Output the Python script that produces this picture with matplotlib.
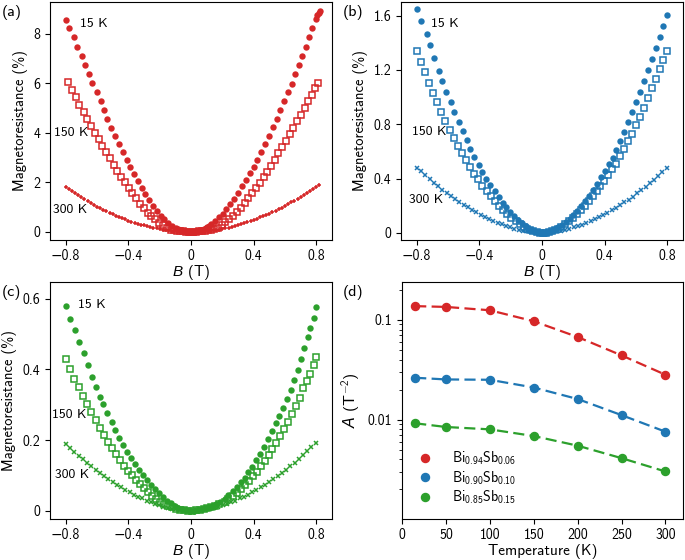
import matplotlib
matplotlib.use("Agg")
import matplotlib.pyplot as plt
from matplotlib.ticker import FixedLocator, NullFormatter, LogLocator
import numpy as np

plt.rcParams['font.family'] = ['cmss10', 'DejaVu Sans']
plt.rcParams['mathtext.fontset'] = 'custom'
plt.rcParams['mathtext.rm'] = 'cmss10'
plt.rcParams['mathtext.sf'] = 'cmss10'
plt.rcParams['mathtext.it'] = 'Liberation Sans:italic'
plt.rcParams['axes.unicode_minus'] = True
plt.rcParams['font.size'] = 10

RED = '#d62728'
BLUE = '#1f77b4'
GREEN = '#2ca02c'

# ---------------- Panel (a): Bi0.94Sb0.06 ----------------
a15_B = [-0.800, -0.777, -0.749, -0.728, -0.698, -0.674, -0.651, -0.630, -0.600, -0.577, -0.555, -0.534,
         -0.509, -0.483, -0.460, -0.436, -0.411, -0.387, -0.362, -0.338, -0.315, -0.291, -0.268, -0.245,
         -0.219, -0.194, -0.170, -0.147, -0.121, -0.098,
         -0.085, -0.075, -0.065, -0.055, -0.045, -0.035, -0.025, -0.015, -0.005, 0.005, 0.015, 0.025,
         0.035, 0.045, 0.055, 0.065, 0.075, 0.085, 0.095, 0.105, 0.115,
         0.128, 0.153, 0.177, 0.202, 0.226, 0.251, 0.276, 0.300, 0.325, 0.349, 0.374, 0.399, 0.423, 0.448,
         0.472, 0.497, 0.522, 0.546, 0.571, 0.595, 0.620, 0.645, 0.667, 0.688, 0.710, 0.732, 0.753, 0.775,
         0.796, 0.806, 0.814, 0.821]
a15_MR = [8.58, 8.22, 7.88, 7.47, 7.11, 6.73, 6.37, 6.01, 5.64, 5.28, 4.92, 4.55,
          4.20, 3.87, 3.54, 3.23, 2.91, 2.63, 2.34, 2.05, 1.78, 1.52, 1.28, 1.05,
          0.84, 0.66, 0.50, 0.36, 0.24, 0.15,
          0.11, 0.08, 0.06, 0.04, 0.03, 0.02, 0.01, 0.00, 0.00, 0.00, 0.00, 0.01,
          0.02, 0.03, 0.05, 0.07, 0.09, 0.12, 0.15, 0.19, 0.24,
          0.31, 0.44, 0.58, 0.73, 0.92, 1.12, 1.33, 1.58, 1.85, 2.09, 2.36, 2.63, 2.92, 3.23,
          3.54, 3.87, 4.24, 4.58, 4.92, 5.29, 5.64, 5.99, 6.37, 6.73, 7.10, 7.47, 7.88, 8.22,
          8.62, 8.75, 8.85, 8.92]

a150_B = [-0.783, -0.762, -0.734, -0.713, -0.685, -0.662, -0.636, -0.613, -0.589, -0.566, -0.540, -0.515,
          -0.494, -0.470, -0.447, -0.421, -0.396, -0.374, -0.349, -0.326, -0.302, -0.277, -0.253, -0.230,
          -0.204, -0.179, -0.155, -0.130,
          -0.11, -0.09, -0.07, -0.05, -0.03, -0.01, 0.01, 0.03, 0.05, 0.07, 0.09, 0.11, 0.13,
          0.145, 0.170, 0.195, 0.220, 0.245, 0.270, 0.295, 0.320, 0.343, 0.367, 0.391, 0.415, 0.439,
          0.463, 0.487, 0.511, 0.535, 0.558, 0.581, 0.605, 0.629, 0.653, 0.677, 0.701, 0.725, 0.748,
          0.770, 0.790, 0.810]
a150_MR = [6.05, 5.75, 5.45, 5.14, 4.85, 4.57, 4.27, 4.00, 3.74, 3.47, 3.23, 2.98,
           2.72, 2.46, 2.22, 2.01, 1.79, 1.58, 1.35, 1.13, 0.96, 0.78, 0.63, 0.50,
           0.36, 0.26, 0.16, 0.09,
           0.06, 0.04, 0.03, 0.02, 0.01, 0.00, 0.00, 0.01, 0.02, 0.03, 0.04, 0.06, 0.08,
           0.10, 0.17, 0.27, 0.38, 0.51, 0.65, 0.80, 0.98, 1.15, 1.35, 1.56, 1.78, 1.99,
           2.20, 2.43, 2.67, 2.92, 3.17, 3.42, 3.68, 3.94, 4.20, 4.47, 4.74, 5.02, 5.29,
           5.55, 5.80, 6.00]

a300_B = [-0.80, -0.78, -0.76, -0.74, -0.72, -0.70, -0.68, -0.66, -0.64, -0.62, -0.60, -0.58, -0.56,
          -0.54, -0.52, -0.50, -0.48, -0.46, -0.44, -0.42, -0.40, -0.38, -0.36, -0.34, -0.32, -0.30,
          -0.28, -0.26, -0.24, -0.22, -0.20, -0.18, -0.16, -0.14, -0.12, -0.10, -0.08, -0.06, -0.04,
          -0.02, 0.00, 0.02, 0.04, 0.06, 0.08, 0.10, 0.12, 0.14, 0.16, 0.18, 0.20, 0.22, 0.24, 0.26,
          0.28, 0.30, 0.32, 0.34, 0.36, 0.38, 0.40, 0.42, 0.44, 0.46, 0.48, 0.50, 0.52, 0.54, 0.56,
          0.58, 0.60, 0.62, 0.64, 0.66, 0.68, 0.70, 0.72, 0.74, 0.76, 0.78, 0.80, 0.82]
a300_MR = [1.82, 1.73, 1.64, 1.56, 1.47, 1.39, 1.31, 1.24, 1.16, 1.09, 1.02, 0.96, 0.89,
           0.83, 0.77, 0.71, 0.65, 0.60, 0.55, 0.50, 0.45, 0.41, 0.37, 0.33, 0.29, 0.26,
           0.22, 0.19, 0.16, 0.14, 0.11, 0.09, 0.07, 0.06, 0.04, 0.03, 0.02, 0.01, 0.00,
           0.00, 0.00, 0.00, 0.00, 0.01, 0.02, 0.03, 0.04, 0.06, 0.07, 0.09, 0.11, 0.14, 0.17, 0.20,
           0.23, 0.27, 0.31, 0.35, 0.39, 0.44, 0.48, 0.53, 0.58, 0.63, 0.69, 0.74, 0.80, 0.86, 0.92,
           0.98, 1.05, 1.12, 1.19, 1.26, 1.33, 1.41, 1.48, 1.56, 1.64, 1.72, 1.80, 1.89]

# ---------------- Panel (b): Bi0.90Sb0.10 ----------------
b15_B = [-0.800, -0.770, -0.736, -0.713, -0.691, -0.659, -0.636, -0.612, -0.580, -0.559, -0.531, -0.506,
         -0.480, -0.457, -0.431, -0.403, -0.382, -0.356, -0.331, -0.303, -0.275, -0.250, -0.228, -0.203,
         -0.177, -0.151, -0.126, -0.100,
         -0.080, -0.065, -0.050, -0.035, -0.020, -0.005, 0.010, 0.025, 0.040, 0.055, 0.070, 0.085,
         0.101, 0.126, 0.151, 0.176, 0.201, 0.226, 0.251, 0.276, 0.301, 0.326, 0.351, 0.376, 0.401,
         0.426, 0.450, 0.475, 0.500, 0.525, 0.550, 0.575, 0.600, 0.625, 0.650, 0.675, 0.700, 0.725,
         0.750, 0.775, 0.800]
b15_MR = [1.647, 1.558, 1.467, 1.382, 1.288, 1.195, 1.117, 1.038, 0.962, 0.888, 0.815, 0.748,
          0.682, 0.621, 0.560, 0.503, 0.449, 0.400, 0.351, 0.307, 0.265, 0.223, 0.187, 0.152,
          0.123, 0.093, 0.069, 0.049,
          0.032, 0.022, 0.014, 0.008, 0.003, 0.000, 0.000, 0.002, 0.006, 0.012, 0.020, 0.030,
          0.040, 0.058, 0.080, 0.105, 0.133, 0.164, 0.198, 0.235, 0.275, 0.318, 0.363, 0.410, 0.458,
          0.505, 0.550, 0.610, 0.675, 0.745, 0.815, 0.890, 0.965, 1.040, 1.120, 1.200, 1.280, 1.360,
          1.440, 1.520, 1.607]

b150_B = [-0.800, -0.774, -0.747, -0.721, -0.695, -0.669, -0.642, -0.616, -0.590, -0.564, -0.537, -0.511,
          -0.485, -0.458, -0.432, -0.406, -0.380, -0.353, -0.327, -0.301, -0.274, -0.248, -0.222, -0.196,
          -0.169, -0.143, -0.117,
          -0.095, -0.075, -0.055, -0.035, -0.015, 0.005, 0.025, 0.045, 0.065, 0.085, 0.105,
          0.122, 0.147, 0.172, 0.197, 0.222, 0.248, 0.273, 0.298, 0.323, 0.348, 0.373, 0.398, 0.423,
          0.448, 0.474, 0.499, 0.524, 0.549, 0.574, 0.599, 0.624, 0.649, 0.674, 0.700, 0.725, 0.750,
          0.775, 0.800]
b150_MR = [1.337, 1.259, 1.183, 1.104, 1.031, 0.960, 0.888, 0.825, 0.761, 0.702, 0.643, 0.589,
           0.535, 0.486, 0.437, 0.393, 0.348, 0.309, 0.272, 0.236, 0.201, 0.167, 0.137, 0.108,
           0.086, 0.064, 0.044,
           0.030, 0.019, 0.011, 0.005, 0.001, 0.000, 0.002, 0.006, 0.013, 0.021, 0.032,
           0.043, 0.062, 0.084, 0.108, 0.136, 0.166, 0.198, 0.233, 0.268, 0.305, 0.345, 0.385, 0.425,
           0.469, 0.510, 0.564, 0.618, 0.675, 0.731, 0.795, 0.856, 0.923, 0.994, 1.065, 1.136, 1.205,
           1.271, 1.337]

b300_B = [-0.800, -0.773, -0.745, -0.718, -0.691, -0.663, -0.636, -0.608, -0.581, -0.554, -0.527, -0.500,
          -0.473, -0.446, -0.419, -0.392, -0.365, -0.338, -0.311, -0.284, -0.257, -0.230, -0.203, -0.176,
          -0.149, -0.122, -0.095, -0.068, -0.041, -0.014,
          0.013, 0.040, 0.067, 0.094, 0.121, 0.148, 0.175, 0.202, 0.229, 0.256, 0.283, 0.310, 0.337,
          0.364, 0.391, 0.418, 0.445, 0.472, 0.499, 0.526, 0.553, 0.580, 0.607, 0.634, 0.661, 0.688,
          0.715, 0.742, 0.769, 0.796]
b300_MR = [0.481, 0.452, 0.423, 0.396, 0.369, 0.343, 0.318, 0.293, 0.270, 0.248, 0.227, 0.206,
           0.187, 0.168, 0.150, 0.133, 0.117, 0.102, 0.088, 0.075, 0.062, 0.051, 0.041, 0.032,
           0.023, 0.016, 0.010, 0.006, 0.002, 0.000,
           0.000, 0.002, 0.006, 0.010, 0.016, 0.023, 0.031, 0.040, 0.050, 0.061, 0.074, 0.087, 0.101,
           0.116, 0.132, 0.149, 0.167, 0.185, 0.204, 0.224, 0.245, 0.267, 0.290, 0.314, 0.339, 0.365,
           0.392, 0.419, 0.446, 0.474]

# ---------------- Panel (c): Bi0.85Sb0.15 ----------------
c15_B = [-0.795, -0.771, -0.741, -0.716, -0.686, -0.660, -0.635, -0.607, -0.583, -0.560, -0.534, -0.504,
         -0.483, -0.459, -0.432, -0.406, -0.382, -0.357, -0.331, -0.308, -0.282, -0.256, -0.231, -0.205,
         -0.179, -0.154, -0.128, -0.103,
         -0.080, -0.055, -0.030, -0.005, 0.020, 0.045, 0.070, 0.095, 0.120, 0.140,
         0.162, 0.188, 0.214, 0.239, 0.265, 0.291, 0.316, 0.342, 0.365, 0.391, 0.415, 0.440, 0.466,
         0.491, 0.517, 0.543, 0.564, 0.590, 0.611, 0.637, 0.658, 0.682, 0.701, 0.722, 0.744, 0.761,
         0.782, 0.801]
c15_MR = [0.579, 0.543, 0.510, 0.478, 0.445, 0.411, 0.379, 0.350, 0.322, 0.301, 0.277, 0.251,
          0.228, 0.206, 0.186, 0.166, 0.148, 0.132, 0.115, 0.101, 0.087, 0.073, 0.061, 0.049,
          0.038, 0.028, 0.021, 0.014,
          0.009, 0.005, 0.002, 0.000, 0.000, 0.002, 0.004, 0.007, 0.011, 0.015,
          0.019, 0.025, 0.034, 0.044, 0.055, 0.068, 0.081, 0.094, 0.109, 0.124, 0.143, 0.162, 0.181,
          0.203, 0.226, 0.247, 0.267, 0.292, 0.316, 0.343, 0.371, 0.397, 0.428, 0.459, 0.492, 0.517,
          0.546, 0.576]

c150_B = [-0.799, -0.774, -0.744, -0.716, -0.688, -0.662, -0.637, -0.607, -0.581, -0.556, -0.530, -0.504,
          -0.479, -0.453, -0.427, -0.402, -0.376, -0.350, -0.325, -0.299, -0.274, -0.248, -0.222, -0.197,
          -0.171,
          -0.146, -0.120, -0.095, -0.070, -0.045, -0.020, 0.005, 0.030, 0.055, 0.080, 0.105, 0.130,
          0.155, 0.180,
          0.214, 0.239, 0.265, 0.291, 0.316, 0.342, 0.368, 0.393, 0.419, 0.444, 0.470, 0.496, 0.519,
          0.543, 0.568, 0.594, 0.620, 0.645, 0.671, 0.694, 0.718, 0.739, 0.761, 0.782, 0.797]
c150_MR = [0.428, 0.402, 0.374, 0.349, 0.324, 0.301, 0.279, 0.258, 0.235, 0.215, 0.196, 0.177,
           0.160, 0.143, 0.128, 0.113, 0.100, 0.087, 0.075, 0.064, 0.053, 0.043, 0.034, 0.026,
           0.019,
           0.014, 0.010, 0.006, 0.003, 0.001, 0.000, 0.000, 0.001, 0.002, 0.004, 0.007, 0.011,
           0.015, 0.020,
           0.025, 0.033, 0.041, 0.051, 0.062, 0.073, 0.085, 0.098, 0.111, 0.126, 0.141, 0.157, 0.174,
           0.192, 0.211, 0.231, 0.251, 0.273, 0.297, 0.320, 0.346, 0.367, 0.388, 0.411, 0.435]

c300_B = b300_B
c300_MR = [0.190, 0.179, 0.167, 0.156, 0.146, 0.135, 0.126, 0.116, 0.107, 0.098, 0.090, 0.082,
           0.074, 0.066, 0.059, 0.053, 0.046, 0.040, 0.035, 0.029, 0.025, 0.020, 0.016, 0.012,
           0.009, 0.006, 0.004, 0.002, 0.001, 0.000,
           0.000, 0.001, 0.002, 0.004, 0.006, 0.009, 0.012, 0.016, 0.020, 0.025, 0.029, 0.035, 0.040,
           0.046, 0.053, 0.059, 0.066, 0.074, 0.082, 0.090, 0.098, 0.107, 0.116, 0.126, 0.136, 0.146,
           0.157, 0.168, 0.180, 0.191]

# ---------------- Panel (d): A coefficient vs temperature ----------------
temps = [15, 50, 100, 150, 200, 250, 300]
A_094 = [0.1375, 0.135, 0.125, 0.097, 0.0674, 0.0441, 0.0282]
A_090 = [0.0263, 0.0253, 0.0251, 0.0210, 0.0161, 0.0111, 0.00757]
A_085 = [0.00919, 0.00844, 0.00799, 0.00685, 0.00548, 0.00411, 0.00302]
legend_labels = ['Bi$_{0.94}$Sb$_{0.06}$', 'Bi$_{0.90}$Sb$_{0.10}$', 'Bi$_{0.85}$Sb$_{0.15}$']

temp_labels = ['15 K', '150 K', '300 K']
xticks_B = [-0.8, -0.4, 0, 0.4, 0.8]
xtick_labels_B = ['\u22120.8', '\u22120.4', '0', '0.4', '0.8']

W, H = 685, 560
fig = plt.figure(figsize=(W / 100, H / 100), dpi=100)


def ax_px(l, r, t, b):
    return fig.add_axes([l / W, (H - b) / H, (r - l) / W, (b - t) / H])


def mr_panel(ax, color, d15, d150, d300, cross, ylim, yticks, yticklabels, lab_pos):
    ax.plot(d300[0], d300[1], ls='none', marker=cross, ms=3.2, mew=1.1, color=color)
    ax.plot(d150[0], d150[1], ls='none', marker='s', ms=4.2, mew=1.1, mfc='none', mec=color)
    ax.plot(d15[0], d15[1], ls='none', marker='o', ms=4.6, mew=0, color=color)
    ax.set_xlim(-0.9, 0.9)
    ax.set_ylim(*ylim)
    ax.set_xticks(xticks_B)
    ax.set_xticklabels(xtick_labels_B)
    ax.set_yticks(yticks)
    ax.set_yticklabels(yticklabels)
    ax.set_xlabel('$B$ (T)', fontsize=11, labelpad=0)
    ax.set_ylabel('Magnetoresistance (%)', fontsize=10.5)
    for txt, (x, y) in zip(temp_labels, lab_pos):
        ax.text(x, y, txt, ha='left', va='center', fontsize=9.8)


axa = ax_px(50, 332, 2, 239.5)
mr_panel(axa, RED, (a15_B, a15_MR), (a150_B, a150_MR), (a300_B, a300_MR), '+',
         (-0.31, 9.29), [0, 2, 4, 6, 8], ['0', '2', '4', '6', '8'],
         [(-0.71, 8.42), (-0.875, 4.0), (-0.88, 0.87)])

axb = ax_px(401, 683, 2, 239.5)
mr_panel(axb, BLUE, (b15_B, b15_MR), (b150_B, b150_MR), (b300_B, b300_MR), 'x',
         (-0.049, 1.70), [0, 0.4, 0.8, 1.2, 1.6], ['0', '0.4', '0.8', '1.2', '1.6'],
         [(-0.708, 1.54), (-0.83, 0.739), (-0.851, 0.24)])

axc = ax_px(50, 332, 282, 518.5)
mr_panel(axc, GREEN, (c15_B, c15_MR), (c150_B, c150_MR), (c300_B, c300_MR), 'x',
         (-0.0217, 0.647), [0, 0.2, 0.4, 0.6], ['0', '0.2', '0.4', '0.6'],
         [(-0.72, 0.581), (-0.887, 0.270), (-0.87, 0.101)])

axd = ax_px(402, 683, 282, 518.5)
for A, c, lab in zip([A_094, A_090, A_085], [RED, BLUE, GREEN], legend_labels):
    axd.plot(temps, A, ls='--', lw=1.6, color=c, dashes=(5, 2.4))
    axd.plot(temps, A, ls='none', marker='o', ms=5.8, color=c, label=lab)
axd.set_yscale('log')
axd.set_xlim(0, 320)
axd.set_ylim(0.00102, 0.24)
axd.set_xticks([0, 50, 100, 150, 200, 250, 300])
axd.yaxis.set_major_locator(FixedLocator([0.01, 0.1]))
axd.set_yticklabels(['0.01', '0.1'])
axd.yaxis.set_minor_locator(LogLocator(base=10, subs=[2, 3, 4, 5, 6, 7, 8, 9]))
axd.yaxis.set_minor_formatter(NullFormatter())
axd.set_xlabel('Temperature (K)', fontsize=11, labelpad=1)
axd.set_ylabel('$A$ (T$^{-2}$)', fontsize=11.5)
axd.legend(loc='lower left', frameon=False, fontsize=10, handletextpad=1.2,
           bbox_to_anchor=(0.0, 0.0), labelspacing=0.15, handlelength=1.5)

for ax in (axa, axb, axc, axd):
    ax.tick_params(labelsize=10)

fig.text(2 / W, 1 - 12 / H, '(a)', fontsize=11.5, va='center', ha='left')
fig.text(343 / W, 1 - 12 / H, '(b)', fontsize=11.5, va='center', ha='left')
fig.text(2 / W, 1 - 292 / H, '(c)', fontsize=11.5, va='center', ha='left')
fig.text(343 / W, 1 - 292 / H, '(d)', fontsize=11.5, va='center', ha='left')

fig.savefig('out.png', dpi=100)
